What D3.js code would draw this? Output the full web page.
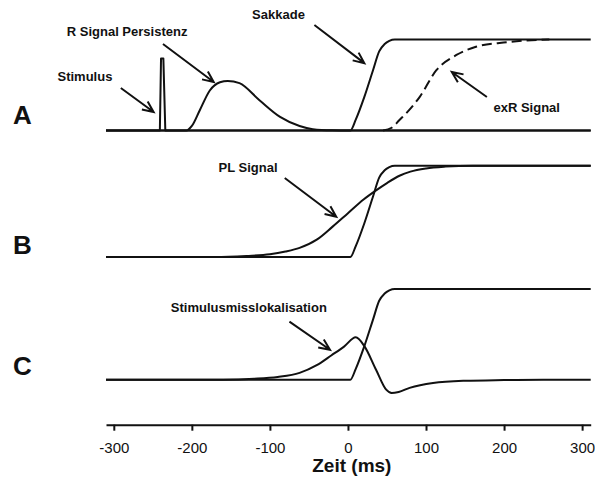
<!DOCTYPE html>
<html>
<head>
<meta charset="utf-8">
<script src="https://cdn.jsdelivr.net/npm/d3@7"></script>
<style>
  body { margin: 0; background: #fff; }
  text { font-family: "Liberation Sans", Arial, sans-serif; fill: #111; }
</style>
</head>
<body>
<svg id="chart" width="595" height="477"></svg>
<script>
// time axis (ms)
const timeDomain = [-310, 311];
const timeTicks = [-300, -200, -100, 0, 100, 200, 300];

// curves: [time ms, relative level]
const saccade = [[-310, 0], [3, 0], [10, 0.12], [21, 0.37], [32, 0.66], [40, 0.87], [47, 0.95], [53, 0.985], [60, 1], [311, 1]];
const stimulus = [[-310, 0], [-241, 0], [-239.5, 0.79], [-236.5, 0.79], [-234, 0], [311, 0]];
const rSignal = [[-310, 0], [-207, 0], [-200, 0.05], [-190, 0.22], [-177, 0.44], [-164, 0.53], [-154, 0.545], [-139, 0.52],
  [-113, 0.33], [-87, 0.15], [-62, 0.05], [-45, 0.015], [-20, 0.002], [0, 0], [311, 0]];
const exrSignal = [[45, 0], [56, 0.03], [66, 0.115], [80, 0.24], [92, 0.37], [113, 0.66], [139, 0.83], [164, 0.92], [203, 0.97], [258, 1]];
const plSignal = [[-310, 0], [-170, 0], [-130, 0.012], [-100, 0.03], [-80, 0.06], [-62, 0.1], [-40, 0.19], [-20, 0.33], [0, 0.48],
  [20, 0.63], [36, 0.73], [50, 0.81], [66, 0.89], [80, 0.935], [100, 0.97], [125, 0.99], [160, 1], [311, 1]];
const misloc = [[-310, 0], [-160, 0], [-120, 0.01], [-90, 0.03], [-62, 0.075], [-40, 0.16], [-21, 0.27], [-5, 0.365], [10, 0.467],
  [21, 0.37], [36, 0.11], [49, -0.11], [56, -0.147], [65, -0.135], [79, -0.09], [109, -0.036], [150, -0.012], [200, -0.004], [250, 0], [311, 0]];

// annotations (text, label position, arrow from -> to), in time / level units
const notesA = [
  { text: 'Stimulus', at: [-337, 0.544], from: [-291, 0.467], to: [-249, 0.203] },
  { text: 'R Signal Persistenz', at: [-283, 1.033], from: [-237, 0.95], to: [-172, 0.533] },
  { text: 'Sakkade', at: [-89, 1.22], from: [-43, 1.16], to: [21, 0.74] },
  { text: 'exR Signal', at: [229, 0.198], from: [178, 0.368], to: [133, 0.643] }
];
const notesB = [
  { text: 'PL Signal', at: [-128, 0.93], from: [-81, 0.865], to: [-15, 0.441] }
];
const notesC = [
  { text: 'Stimulusmisslokalisation', at: [-127, 0.741], from: [-75, 0.64], to: [-23, 0.33] }
];

const svg = d3.select('#chart');

const x = d3.scaleLinear().domain(timeDomain).range([106, 590.7]);

const panels = [
  { letter: 'A', base: 130.5, top: 39.5, letterY: 123.5, notes: notesA },
  { letter: 'B', base: 257, top: 165.7, letterY: 253.5, notes: notesB },
  { letter: 'C', base: 379.7, top: 289, letterY: 375, notes: notesC }
];
panels.forEach(p => { p.y = d3.scaleLinear().domain([0, 1]).range([p.base, p.top]); });

const drawCurve = (p, data, curve, dash) => {
  const line = d3.line()
    .x(d => x(d[0]))
    .y(d => p.y(d[1]))
    .curve(curve);
  svg.append('path')
    .datum(data)
    .attr('d', line)
    .style('fill', 'none')
    .style('stroke', '#111')
    .style('stroke-width', '2px')
    .style('stroke-linejoin', 'round')
    .style('stroke-dasharray', dash || null);
};

const drawArrow = (p, from, to) => {
  const x1 = x(from[0]), y1 = p.y(from[1]);
  const x2 = x(to[0]), y2 = p.y(to[1]);
  const a = Math.atan2(y2 - y1, x2 - x1);
  const len = 12, spread = 0.42;
  const head = d3.path();
  head.moveTo(x1, y1);
  head.lineTo(x2, y2);
  head.moveTo(x2 - len * Math.cos(a - spread), y2 - len * Math.sin(a - spread));
  head.lineTo(x2, y2);
  head.lineTo(x2 - len * Math.cos(a + spread), y2 - len * Math.sin(a + spread));
  svg.append('path')
    .attr('d', head.toString())
    .style('fill', 'none')
    .style('stroke', '#111')
    .style('stroke-width', '2px');
};

// panel A
drawCurve(panels[0], stimulus, d3.curveLinear);
drawCurve(panels[0], rSignal, d3.curveMonotoneX);
drawCurve(panels[0], saccade, d3.curveMonotoneX);
drawCurve(panels[0], exrSignal, d3.curveMonotoneX, '10,5');
// panel B
drawCurve(panels[1], saccade, d3.curveMonotoneX);
drawCurve(panels[1], plSignal, d3.curveMonotoneX);
// panel C
drawCurve(panels[2], saccade, d3.curveMonotoneX);
drawCurve(panels[2], misloc, d3.curveMonotoneX);

panels.forEach(p => {
  svg.append('text')
    .attr('x', 13)
    .attr('y', p.letterY)
    .style('font-size', '26px')
    .style('font-weight', 'bold')
    .text(p.letter);

  p.notes.forEach(n => {
    svg.append('text')
      .attr('x', x(n.at[0]))
      .attr('y', p.y(n.at[1]))
      .attr('text-anchor', 'middle')
      .style('font-size', '13px')
      .style('font-weight', 'bold')
      .text(n.text);
    drawArrow(p, n.from, n.to);
  });
});

// time axis
const axis = svg.append('g')
  .attr('transform', 'translate(0, 424.7)')
  .call(d3.axisBottom(x)
    .tickValues(timeTicks)
    .tickFormat(d => String(d))
    .tickSizeInner(6)
    .tickSizeOuter(0)
    .tickPadding(11.5));
axis.select('.domain').style('stroke', '#111').style('stroke-width', '2px');
axis.selectAll('.tick line').style('stroke', '#111').style('stroke-width', '2px');
axis.selectAll('.tick text')
  .style('font-size', '15px')
  .style('font-family', '"Liberation Sans", Arial, sans-serif')
  .style('fill', '#111');

svg.append('text')
  .attr('x', x(5))
  .attr('y', 472)
  .attr('text-anchor', 'middle')
  .style('font-size', '19px')
  .style('font-weight', 'bold')
  .text('Zeit (ms)');
</script>
</body>
</html>
